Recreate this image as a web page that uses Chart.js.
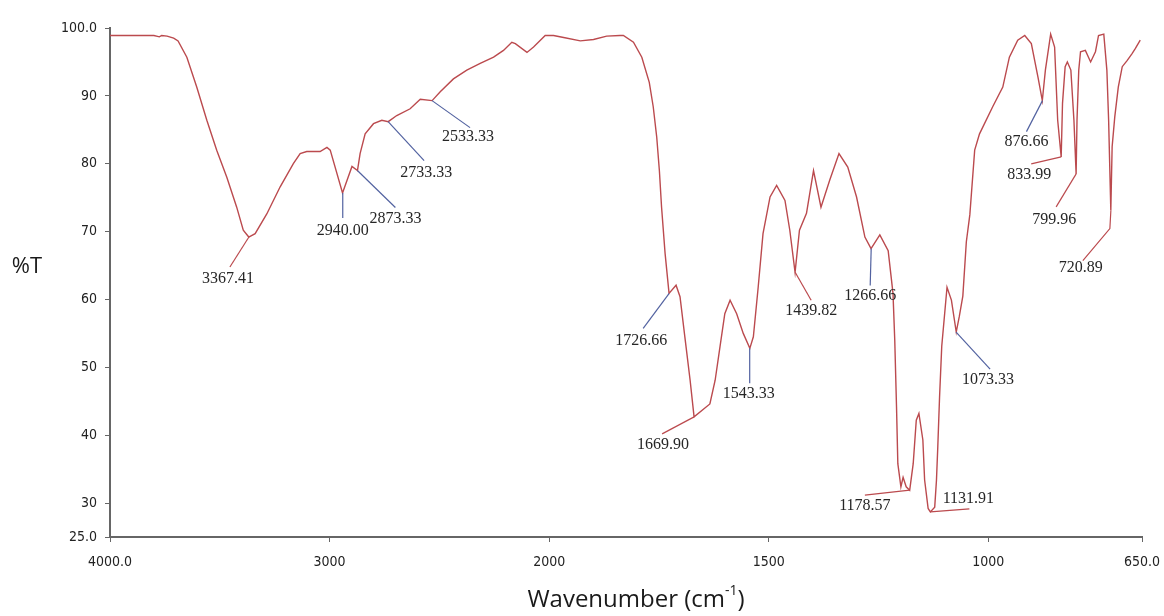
<!DOCTYPE html>
<html>
<head>
<meta charset="utf-8">
<script src="https://cdn.jsdelivr.net/npm/chart.js@4.4.1/dist/chart.umd.min.js"></script>
<style>
  html, body { margin: 0; padding: 0; background: #fff; }
  #wrap { width: 1164px; height: 616px; position: relative; }
</style>
</head>
<body>
<div id="wrap"><canvas id="ir"></canvas></div>
<script>
'use strict';

// IR spectrum (wavenumber cm-1, %T)
const wavenumbers = [
  4000, 3900, 3800, 3775, 3765, 3740, 3710, 3690, 3650, 3605, 3559, 3514, 3468, 3423, 3393,
  3368, 3339, 3286, 3225, 3165, 3134, 3104, 3043, 3012, 2997, 2941, 2898, 2873, 2861, 2838,
  2800, 2762, 2733, 2694, 2633, 2587, 2533, 2496, 2436, 2375, 2314, 2253, 2208, 2170, 2154,
  2101, 2071, 2018, 1990, 1967, 1929, 1899, 1869, 1839, 1831, 1808, 1789, 1772, 1763, 1755,
  1749, 1744, 1736, 1727, 1711, 1702, 1691, 1679, 1670, 1634, 1622, 1611, 1600, 1588, 1573,
  1558, 1543, 1535, 1524, 1513, 1497, 1482, 1463, 1452, 1440, 1430, 1414, 1398, 1381, 1361,
  1340, 1320, 1300, 1281, 1267, 1247, 1228, 1217, 1213, 1209, 1206, 1199, 1194, 1187, 1179,
  1171, 1164, 1158, 1149, 1145, 1137, 1132, 1122, 1118, 1115, 1111, 1106, 1094, 1084, 1073,
  1066, 1058, 1050, 1042, 1031, 1020, 990, 967, 952, 933, 917, 902, 887, 877, 870,
  858, 849, 842, 834, 831, 825, 820, 812, 805, 800, 798, 794, 790, 779, 767,
  756, 749, 737, 730, 726, 721, 718, 712, 704, 695, 684, 673, 665, 654
];
const transmittance = [
  98.9, 98.9, 98.9, 98.7, 98.9, 98.8, 98.5, 98.1, 95.7, 91.3, 86.4, 82.0, 78.0, 73.6, 70.2,
  69.2, 69.7, 72.6, 76.6, 80.0, 81.5, 81.8, 81.8, 82.4, 82.0, 75.7, 79.6, 79.0, 81.5, 84.4,
  85.9, 86.4, 86.2, 87.1, 88.1, 89.5, 89.3, 90.6, 92.5, 93.8, 94.8, 95.7, 96.7, 97.9, 97.7,
  96.4, 97.2, 98.9, 98.9, 98.6, 98.1, 98.3, 98.8, 98.9, 98.9, 97.9, 95.7, 92.0, 88.4, 83.9,
  79.0, 73.6, 66.8, 60.9, 62.1, 60.4, 54.5, 48.1, 42.7, 44.6, 48.1, 53.0, 57.9, 59.9, 57.9,
  55.0, 52.8, 54.5, 61.8, 69.7, 75.1, 76.8, 74.6, 70.2, 64.0, 70.2, 72.7, 79.0, 73.6, 77.6,
  81.5, 79.5, 75.1, 69.2, 67.5, 69.5, 67.2, 60.9, 54.0, 44.2, 35.8, 32.4, 33.8, 32.4, 31.9,
  35.8, 42.2, 43.2, 39.3, 33.4, 29.2, 28.7, 29.4, 33.4, 38.3, 45.6, 53.1, 61.8, 59.9, 55.2,
  57.5, 60.5, 68.5, 72.5, 82.0, 84.4, 88.4, 91.3, 95.7, 98.2, 98.9, 97.7, 92.8, 89.3, 93.8,
  99.1, 97.2, 86.4, 81.0, 88.9, 94.3, 95.0, 93.8, 86.4, 78.5, 86.4, 93.8, 96.5, 96.7, 95.0,
  96.5, 98.9, 99.1, 93.8, 86.4, 73.1, 82.5, 86.9, 91.3, 94.3, 95.2, 96.2, 97.0, 98.2
];

// labelled peaks
const peakWn = [3367.41, 2940.00, 2873.33, 2733.33, 2533.33, 1726.66, 1669.90, 1543.33, 1439.82,
                1266.66, 1178.57, 1131.91, 1073.33, 876.66, 833.99, 799.96, 720.89];
const peakT  = [69.2, 75.7, 79.0, 86.2, 89.3, 60.9, 42.7, 52.8, 64.0,
                67.5, 31.9, 28.7, 55.2, 89.3, 81.0, 78.5, 73.1];

const xTicks = [4000, 3000, 2000, 1500, 1000, 650];
const yTicks = [25, 30, 40, 50, 60, 70, 80, 90, 100];

// spectrometer x axis: below 2000 cm-1 the scale is stretched 2x
const X_HI = 4000, X_LO = 650, X_SPLIT = 2000, X_STRETCH = 2;
const X_SPAN = (X_HI - X_SPLIT) + X_STRETCH * (X_SPLIT - X_LO);

function wnToDecimal(w) {
  const u = w >= X_SPLIT ? X_HI - w : (X_HI - X_SPLIT) + X_STRETCH * (X_SPLIT - w);
  return u / X_SPAN;
}
function decimalToWn(d) {
  const u = d * X_SPAN;
  return u <= X_HI - X_SPLIT ? X_HI - u : X_SPLIT - (u - (X_HI - X_SPLIT)) / X_STRETCH;
}

class SplitScale extends Chart.LinearScale {
  buildTicks() { return xTicks.map(v => ({ value: v })); }
  getPixelForValue(v) { return v == null ? NaN : this.getPixelForDecimal(wnToDecimal(v)); }
  getValueForPixel(p) { return decimalToWn(this.getDecimalForPixel(p)); }
}
SplitScale.id = 'splitwn';
SplitScale.defaults = Chart.LinearScale.defaults;
Chart.register(SplitScale);

const CURVE = '#bb4a4e';
const BLUE  = '#5262a0';
const AXIS  = '#666';
const TICK_FONT = { family: '"DejaVu Sans Condensed", "DejaVu Sans", sans-serif', size: 14 };

// leader line / label offsets (px) from each peak point
const leaderLayout = [
  { tip: [-19, 30], label: [-21, 42], c: 'r' },
  { tip: [0, 25],   label: [0, 38],   c: 'b' },
  { tip: [38, 37],  label: [38, 48],  c: 'b' },
  { tip: [36, 39],  label: [38, 51],  c: 'b' },
  { tip: [38, 27],  label: [36, 36],  c: 'b' },
  { tip: [-26, 35], label: [-28, 47], c: 'b' },
  { tip: [-32, 17], label: [-31, 28], c: 'r' },
  { tip: [0, 35],   label: [-1, 45],  c: 'b' },
  { tip: [16, 28],  label: [16, 38],  c: 'r' },
  { tip: [-1, 37],  label: [-1, 47],  c: 'b' },
  { tip: [-45, 5],  label: [-45, 16], c: 'r' },
  { tip: [39, -3],  label: [38, -13], c: 'r' },
  { tip: [34, 37],  label: [32, 48],  c: 'b' },
  { tip: [-16, 31], label: [-16, 41], c: 'b' },
  { tip: [-30, 7],  label: [-32, 18], c: 'r' },
  { tip: [-20, 33], label: [-22, 46], c: 'r' },
  { tip: [-28, 50], label: [-30, 57], c: 'r', elbow: [-1, 18] },
];

const peakLabels = {
  id: 'peakLabels',
  afterDatasetsDraw(chart) {
    const { ctx, scales: { x, y } } = chart;
    ctx.save();
    ctx.font = '16px "Liberation Serif", "Times New Roman", serif';
    ctx.textAlign = 'center';
    ctx.textBaseline = 'middle';
    peakWn.forEach((w, i) => {
      const lay = leaderLayout[i];
      const ax = x.getPixelForValue(w);
      const ay = y.getPixelForValue(peakT[i]);
      ctx.strokeStyle = lay.c === 'r' ? CURVE : BLUE;
      ctx.lineWidth = 1.2;
      ctx.beginPath();
      ctx.moveTo(ax, ay);
      if (lay.elbow) ctx.lineTo(ax + lay.elbow[0], ay + lay.elbow[1]);
      ctx.lineTo(ax + lay.tip[0], ay + lay.tip[1]);
      ctx.stroke();
      ctx.fillStyle = '#262626';
      ctx.fillText(w.toFixed(2), ax + lay.label[0], ay + lay.label[1]);
    });
    ctx.restore();
  }
};

// "%T" sits horizontally at the left; x title has a real superscript
const axisTitles = {
  id: 'axisTitles',
  afterDraw(chart) {
    const { ctx, chartArea: a } = chart;
    ctx.save();
    ctx.fillStyle = '#1a1a1a';
    ctx.textBaseline = 'middle';
    ctx.font = '22px "Open Sans", sans-serif';
    ctx.textAlign = 'center';
    ctx.fillText('%T', 27, a.top + 239);

    const big = '24px "Open Sans", sans-serif';
    const small = '14px "Open Sans", sans-serif';
    const parts = [['Wavenumber (cm', big, 0], ['-1', small, -9], [')', big, 0]];
    let total = 0;
    parts.forEach(p => { ctx.font = p[1]; total += ctx.measureText(p[0]).width; });
    let cx = 636 - total / 2;
    const cy = a.bottom + 63;
    ctx.textAlign = 'left';
    parts.forEach(p => {
      ctx.font = p[1];
      ctx.fillText(p[0], cx, cy + p[2]);
      cx += ctx.measureText(p[0]).width;
    });
    ctx.restore();
  }
};

new Chart(document.getElementById('ir'), {
  type: 'line',
  data: {
    datasets: [{
      data: wavenumbers.map((w, i) => ({ x: w, y: transmittance[i] })),
      borderColor: CURVE,
      borderWidth: 1.4,
      pointRadius: 0,
      tension: 0,
      fill: false,
    }],
  },
  options: {
    responsive: true,
    maintainAspectRatio: false,
    animation: false,
    layout: { padding: { top: 28, right: 22, left: 0, bottom: 0 } },
    plugins: { legend: { display: false }, tooltip: { enabled: false } },
    scales: {
      x: {
        type: 'splitwn',
        min: X_LO,
        max: X_HI,
        // fixed height, and no extra room for the end labels
        afterFit: s => { s.height = 79; s.paddingLeft = 0; s.paddingRight = 0; },
        border: { display: true, color: AXIS, width: 2 },
        grid: { drawOnChartArea: false, drawTicks: true, tickLength: 5, tickColor: AXIS },
        ticks: {
          font: TICK_FONT,
          color: '#222',
          padding: 12,
          maxRotation: 0,
          autoSkip: false,
          callback: v => (v === X_HI || v === X_LO) ? v.toFixed(1) : String(v),
        },
      },
      y: {
        type: 'linear',
        min: 25,
        max: 100,
        afterFit: s => { s.width = 110; s.paddingTop = 0; s.paddingBottom = 0; },
        afterBuildTicks: s => { s.ticks = yTicks.map(v => ({ value: v })); },
        border: { display: true, color: AXIS, width: 2 },
        grid: { drawOnChartArea: false, drawTicks: true, tickLength: 5, tickColor: AXIS },
        ticks: {
          font: TICK_FONT,
          color: '#222',
          padding: 8,
          callback: v => (v === 100 || v === 25) ? v.toFixed(1) : String(v),
        },
      },
    },
  },
  plugins: [peakLabels, axisTitles],
});
</script>
</body>
</html>
